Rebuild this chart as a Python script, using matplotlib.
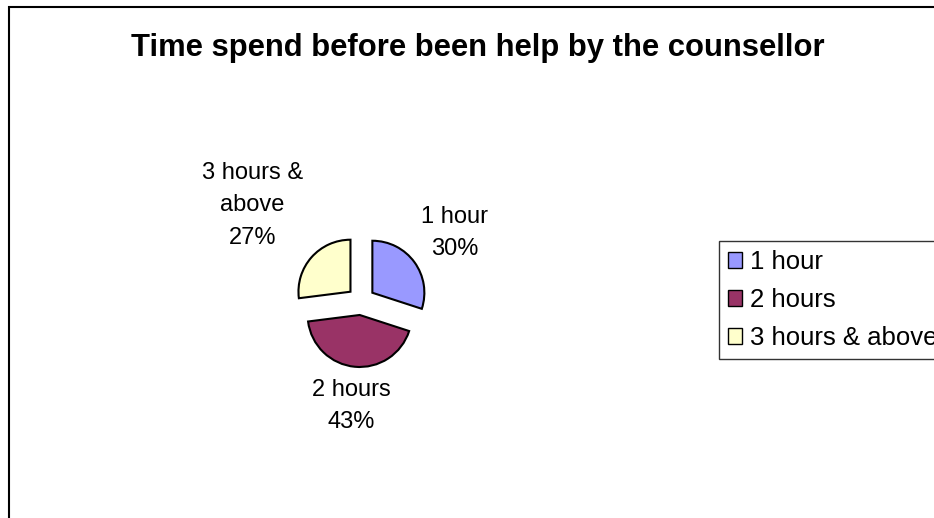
import numpy as np
import matplotlib.pyplot as plt
from matplotlib.patches import Rectangle

plt.rcParams['font.family'] = ['Liberation Sans', 'DejaVu Sans']

categories = ['1 hour', '2 hours', '3 hours & above']
label_names = ['1 hour', '2 hours', '3 hours &\nabove']
percent = [30, 43, 27]
colors = ['#9999FF', '#993366', '#FFFFCC']

W, H = 934, 518
fig = plt.figure(figsize=(W / 100, H / 100), dpi=100)

# pie centre and radius in pixels
cx, cy, r_px = 361, 301, 52
box = 4 * r_px
ax = fig.add_axes([(cx - box / 2) / W, (H - cy - box / 2) / H, box / W, box / H])

wedges, _ = ax.pie(percent, colors=colors, startangle=90, counterclock=False,
                   explode=[0.27] * 3, radius=1,
                   wedgeprops=dict(edgecolor='black', linewidth=1.5))
# pie() sets its own limits, so fix them afterwards
ax.set_xlim(-2, 2)
ax.set_ylim(-2, 2)
ax.set_aspect('equal')
ax.axis('off')

# distance of each data label from the pie centre
label_r = [2.23, 2.03, 2.78]
for w, name, p, lr in zip(wedges, label_names, percent, label_r):
    th = np.deg2rad((w.theta1 + w.theta2) / 2)
    ax.text(lr * np.cos(th), lr * np.sin(th), f'{name}\n{p}%', ha='center', va='center',
            fontsize=17, linespacing=1.6, clip_on=False)

fig.text(478 / W, 1 - 56 / H, 'Time spend before been help by the counsellor',
         ha='center', va='baseline', fontsize=22.3, fontweight='bold')

leg = fig.legend(wedges, categories, loc='upper left', bbox_to_anchor=(719 / W, 1 - 241 / H),
                 fontsize=18.5, frameon=True, fancybox=False, handlelength=0.55, handleheight=0.55,
                 handletextpad=0.3, labelspacing=0.55, borderpad=0.35, borderaxespad=0)
leg.get_frame().set_edgecolor('black')
leg.get_frame().set_linewidth(1)
for h in leg.legend_handles:
    h.set_linewidth(1)

fig.add_artist(Rectangle((9 / W, -0.1), 1.2, 1.1 - 7 / H, transform=fig.transFigure,
                         fill=False, edgecolor='black', linewidth=1.5))

fig.savefig('out.png', dpi=100)
